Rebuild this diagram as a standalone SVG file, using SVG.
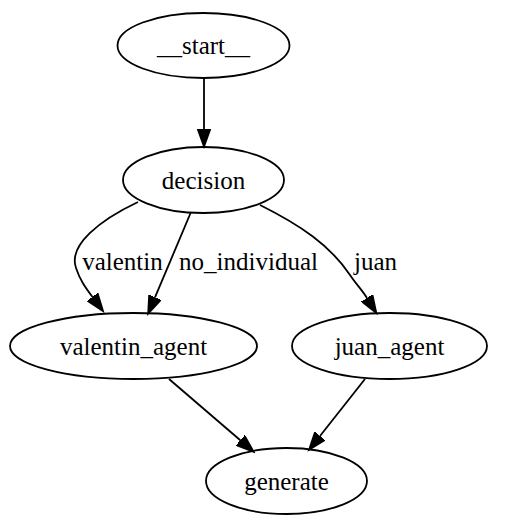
<svg xmlns="http://www.w3.org/2000/svg" width="510" height="528" viewBox="0 0 510 528">
<style>
.node ellipse{fill:none;stroke:#000;stroke-width:1.8}
text{font-family:'Liberation Serif','DejaVu Serif',serif;font-size:25px;fill:#000;text-anchor:middle}
.edge path{fill:none;stroke:#000;stroke-width:1.8;marker-end:url(#arrow)}
</style>
<defs>
<marker id="arrow" markerUnits="userSpaceOnUse" viewBox="0 -7 20 14" markerWidth="20" markerHeight="14" refX="0" refY="0" orient="auto">
<path d="M0,-6.5 L18,0 L0,6.5 z" fill="#000" stroke="#000" stroke-width="1.5"/>
</marker>
</defs>
<rect width="510" height="528" fill="#fff"/>
<g id="edges">
<g class="edge" id="e_start_decision"><path d="M204,78 L204,129"/></g>
<g class="edge" id="e_decision_valentin"><path d="M138,202 C100,220 68,245 76,268 C80,280 85,287 92.5,297"/><text x="122.5" y="270" font-family="Liberation Serif, DejaVu Serif, serif">valentin</text></g>
<g class="edge" id="e_decision_noind"><path d="M191,212 L155,297.4"/><text x="248.5" y="270" font-family="Liberation Serif, DejaVu Serif, serif">no_individual</text></g>
<g class="edge" id="e_decision_juan"><path d="M260,205 C300,225 330,245 350,275 C356,284 362,290 367,298"/><text x="375.5" y="270" font-family="Liberation Serif, DejaVu Serif, serif">juan</text></g>
<g class="edge" id="e_valentin_generate"><path d="M169,379 L240.3,440.3"/></g>
<g class="edge" id="e_juan_generate"><path d="M365,379 L320,436"/></g>
</g>
<g class="node" id="n_start"><ellipse cx="203.5" cy="45.5" rx="86" ry="32.5"/><text x="203.5" y="54" font-family="Liberation Serif, DejaVu Serif, serif">__start__</text></g>
<g class="node" id="n_decision"><ellipse cx="203.5" cy="180" rx="80.5" ry="33"/><text x="203.5" y="188.5" font-family="Liberation Serif, DejaVu Serif, serif">decision</text></g>
<g class="node" id="n_valentin_agent"><ellipse cx="133.5" cy="346" rx="123.5" ry="33"/><text x="133.5" y="354.5" font-family="Liberation Serif, DejaVu Serif, serif">valentin_agent</text></g>
<g class="node" id="n_juan_agent"><ellipse cx="389.5" cy="346" rx="97.5" ry="33"/><text x="389.5" y="354.5" font-family="Liberation Serif, DejaVu Serif, serif">juan_agent</text></g>
<g class="node" id="n_generate"><ellipse cx="286.5" cy="481" rx="80.5" ry="33"/><text x="286.5" y="489.5" font-family="Liberation Serif, DejaVu Serif, serif">generate</text></g>
</svg>
